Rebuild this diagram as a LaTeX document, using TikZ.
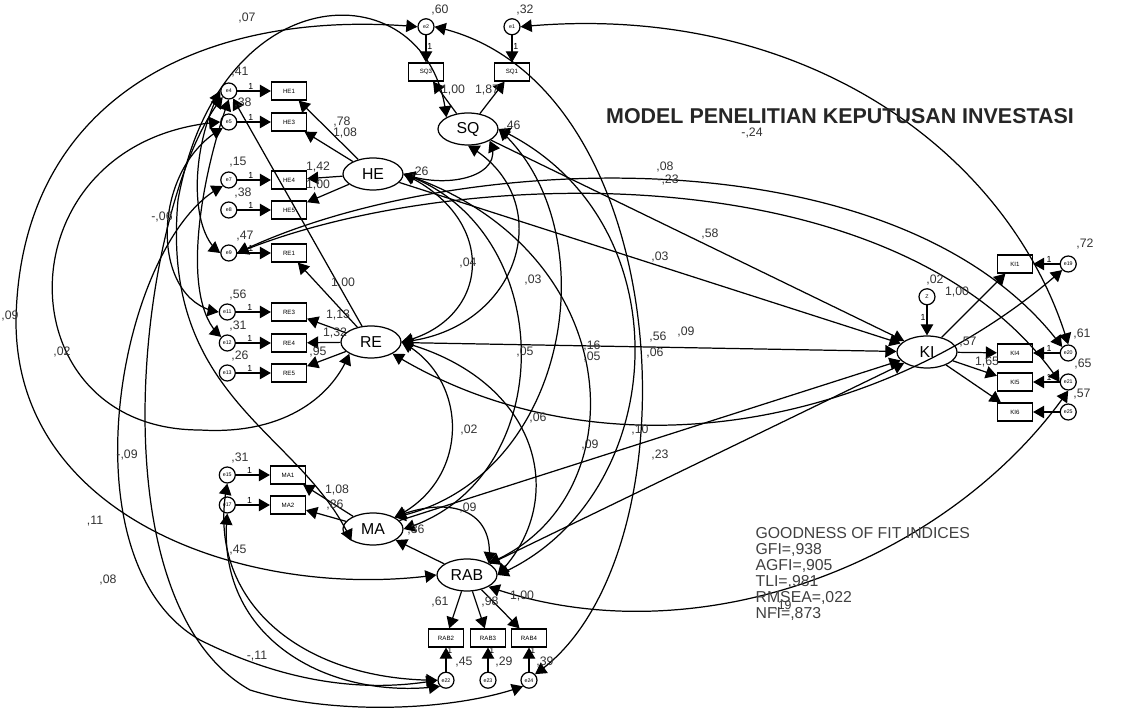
\documentclass[tikz,border=0pt]{standalone}
\usepackage{fontspec}
\setmainfont{Liberation Sans}
\usepackage{tikz}
\usetikzlibrary{arrows}
\usetikzlibrary{positioning}
\usetikzlibrary{shapes.geometric}
\tikzset{%
  myedge/.style={->, >=triangle 60},
  mycov/.style={<->, >=triangle 60},
  latent/.style={ellipse, draw=black, minimum width=1.2cm, minimum height=0.64cm, inner sep=0pt, font=\fontsize{9}{9}\selectfont},
  obsbox/.style={rectangle, draw=black, minimum width=0.7cm, minimum height=0.36cm, inner sep=0pt, font=\fontsize{3.5}{4}\selectfont},
  errnode/.style={circle, draw=black, minimum size=0.32cm, inner sep=0pt, font=\fontsize{3}{3}\selectfont},
  num/.style={font=\fontsize{7}{7}\selectfont, inner sep=0pt, text=black!80},
  one/.style={font=\fontsize{5}{5}\selectfont, inner sep=0.5pt}
}

\begin{document}
\begin{tikzpicture}[x=0.02cm, y=-0.02cm, line width=0.7pt]
  \useasboundingbox (0,0) rectangle (1140,715);

  % latent variables
  \node[latent] (sq) at (468,129) {SQ};
  \node[latent] (he) at (373,174) {HE};
  \node[latent] (re) at (371,342) {RE};
  \node[latent] (ma) at (373,529) {MA};
  \node[latent] (rab) at (467,575) {RAB};
  \node[latent] (ki) at (927,352) {KI};

  % indicators
  \node[obsbox] (he1) at (289,91) {HE1};
  \node[obsbox] (he3) at (289,122) {HE3};
  \node[obsbox] (he4) at (289,180) {HE4};
  \node[obsbox] (he5) at (289,210) {HE5};
  \node[obsbox] (re1) at (289,253) {RE1};
  \node[obsbox] (re3) at (289,312) {RE3};
  \node[obsbox] (re4) at (289,343) {RE4};
  \node[obsbox] (re5) at (289,373) {RE5};
  \node[obsbox] (ma1) at (288,475) {MA1};
  \node[obsbox] (ma2) at (288,505) {MA2};
  \node[obsbox] (sq3) at (426,72) {SQ3};
  \node[obsbox] (sq1) at (512,72) {SQ1};
  \node[obsbox] (rab2) at (446,638) {RAB2};
  \node[obsbox] (rab3) at (488,638) {RAB3};
  \node[obsbox] (rab4) at (529,638) {RAB4};
  \node[obsbox] (ki1) at (1015,264) {KI1};
  \node[obsbox] (ki4) at (1015,353) {KI4};
  \node[obsbox] (ki5) at (1015,382) {KI5};
  \node[obsbox] (ki6) at (1015,412) {KI6};

  % error terms
  \node[errnode,left=0.67cm of he1] (e4) {e4};
  \node[errnode,left=0.67cm of he3] (e5) {e5};
  \node[errnode,left=0.67cm of he4] (e7) {e7};
  \node[errnode,left=0.67cm of he5] (e8) {e8};
  \node[errnode,left=0.67cm of re1] (e9) {e9};
  \node[errnode,left=0.7cm of re3] (e11) {e11};
  \node[errnode,left=0.7cm of re4] (e12) {e12};
  \node[errnode,left=0.7cm of re5] (e13) {e13};
  \node[errnode,left=0.68cm of ma1] (e15) {e15};
  \node[errnode,left=0.68cm of ma2] (e17) {e17};
  \node[errnode,above=0.54cm of sq3] (e2) {e2};
  \node[errnode,above=0.54cm of sq1] (e1) {e1};
  \node[errnode,below=0.48cm of rab2] (e22) {e22};
  \node[errnode,below=0.48cm of rab3] (e23) {e23};
  \node[errnode,below=0.48cm of rab4] (e24) {e24};
  \node[errnode,right=0.53cm of ki1] (e19) {e19};
  \node[errnode,right=0.53cm of ki4] (e20) {e20};
  \node[errnode,right=0.53cm of ki5] (e21) {e21};
  \node[errnode,right=0.53cm of ki6] (e25) {e25};
  \node[errnode,above=0.6cm of ki] (z) {Z};

  % loadings
  \draw[myedge] (he) -- (he1);
  \draw[myedge] (he) -- (he3);
  \draw[myedge] (he) -- (he4);
  \draw[myedge] (he) -- (he5);
  \draw[myedge] (re) -- (re1);
  \draw[myedge] (re) -- (re3);
  \draw[myedge] (re) -- (re4);
  \draw[myedge] (re) -- (re5);
  \draw[myedge] (ma) -- (ma1);
  \draw[myedge] (ma) -- (ma2);
  \draw[myedge] (sq) -- (sq3);
  \draw[myedge] (sq) -- (sq1);
  \draw[myedge] (rab) -- (rab2);
  \draw[myedge] (rab) -- (rab3);
  \draw[myedge] (rab) -- (rab4);
  \draw[myedge] (ki) -- (ki1);
  \draw[myedge] (ki) -- (ki4);
  \draw[myedge] (ki) -- (ki5);
  \draw[myedge] (ki) -- (ki6);

  % error paths
  \draw[myedge] (e4) -- node[one,above,pos=0.4] (o4) {1} (he1);
  \draw[myedge] (e5) -- node[one,above,pos=0.4] (o5) {1} (he3);
  \draw[myedge] (e7) -- node[one,above,pos=0.4] (o7) {1} (he4);
  \draw[myedge] (e8) -- node[one,above,pos=0.4] (o8) {1} (he5);
  \draw[myedge] (e9) -- node[one,above,pos=0.4] (o9) {1} (re1);
  \draw[myedge] (e11) -- node[one,above,pos=0.4] (o11) {1} (re3);
  \draw[myedge] (e12) -- node[one,above,pos=0.4] (o12) {1} (re4);
  \draw[myedge] (e13) -- node[one,above,pos=0.4] (o13) {1} (re5);
  \draw[myedge] (e15) -- node[one,above,pos=0.4] (o15) {1} (ma1);
  \draw[myedge] (e17) -- node[one,above,pos=0.4] (o17) {1} (ma2);
  \draw[myedge] (e2) -- node[one,right,pos=0.4] (o2) {1} (sq3);
  \draw[myedge] (e1) -- node[one,right,pos=0.4] (o1) {1} (sq1);
  \draw[myedge] (e22) -- node[one,right,pos=0.9] (o22) {1} (rab2);
  \draw[myedge] (e23) -- node[one,right,pos=0.9] (o23) {1} (rab3);
  \draw[myedge] (e24) -- node[one,right,pos=0.9] (o24) {1} (rab4);
  \draw[myedge] (e19) -- node[one,above,pos=0.4] (o19) {1} (ki1);
  \draw[myedge] (e20) -- node[one,above,pos=0.4] (o20) {1} (ki4);
  \draw[myedge] (e21) -- node[one,above,pos=0.4] (o21) {1} (ki5);
  \draw[myedge] (e25) -- (ki6);
  \draw[myedge] (z) -- node[one,left,pos=0.4] (oz) {1} (ki);

  % structural paths
  \draw[myedge] (sq) -- (ki);
  \draw[myedge] (he) -- (ki);
  \draw[myedge] (re) -- (ki);
  \draw[myedge] (ma) -- (ki);
  \draw[myedge] (rab) -- (ki);
  \draw[myedge] (rab) -- (ma);
  \draw[myedge] (re) -- (e4);

  % covariances of latents
  \draw[mycov] (he.east) .. controls (450,190) and (505,175) .. (sq.south east);
  \draw[mycov] (he.east) .. controls (500,220) and (490,320) .. (re.east);
  \draw[mycov] (sq.south) .. controls (560,200) and (520,330) .. (re.east);
  \draw[mycov] (he.east) .. controls (560,230) and (560,480) .. (ma.east);
  \draw[mycov] (he.east) .. controls (630,250) and (640,500) .. (rab.north east);
  \draw[mycov] (sq.east) .. controls (610,230) and (570,480) .. (ma.north east);
  \draw[mycov] (sq.east) .. controls (690,220) and (670,500) .. (rab.east);
  \draw[mycov] (re.east) .. controls (470,380) and (470,480) .. (ma.north east);
  \draw[mycov] (re.east) .. controls (540,380) and (570,500) .. (rab.east);
  \draw[mycov] (ma.north east) .. controls (450,495) and (495,510) .. (rab.north east);

  % covariances of errors, right
  \draw[mycov] (e9.east) .. controls (450,150) and (900,130) .. (e20.north west);
  \draw[mycov] (e9.east) .. controls (450,165) and (900,150) .. (e21.west);
  \draw[mycov] (e1.east) .. controls (800,0) and (1010,150) .. (e20.north);
  \draw[mycov] (re.south east) .. controls (600,480) and (880,430) .. (e19.south west);
  \draw[mycov] (rab.south east) .. controls (700,660) and (950,560) .. (e21.south);
  \draw[mycov] (e2.east) .. controls (680,80) and (700,560) .. (e24.north east);

  % covariances of errors, left
  \draw[mycov] (e2.west) .. controls (200,8) and (20,100) .. (16,320) .. controls (15,520) and (250,600) .. (rab.west);
  \draw[mycov] (sq.north west) .. controls (430,-30) and (220,-30) .. (178,200) .. controls (160,400) and (300,430) .. (ma.south west);
  \draw[mycov] (e5.west) .. controls (0,140) and (0,430) .. (200,430) .. controls (280,435) and (330,400) .. (re.south west);
  \draw[mycov] (e7.south west) .. controls (120,240) and (60,560) .. (200,640) .. controls (300,690) and (380,690) .. (e22.west);
  \draw[mycov] (e4.south west) .. controls (140,200) and (90,600) .. (250,690) .. controls (330,715) and (450,712) .. (e24.south west);
  \draw[mycov] (e15.south) .. controls (205,600) and (300,680) .. (e22.west);
  \draw[mycov] (e17.south) .. controls (215,640) and (330,700) .. (e22.south west);
  \draw[mycov] (e4.west) .. controls (190,150) and (190,230) .. (e9.west);
  \draw[mycov] (e5.south west) .. controls (150,170) and (150,300) .. (e11.west);
  \draw[mycov] (e4.south) .. controls (200,180) and (180,300) .. (e12.north west);

  % variances
  \node[num] (v4) at (240,72) {,41};
  \node[num] (v5) at (243,103) {,38};
  \node[num] (v7) at (238,162) {,15};
  \node[num] (v8) at (243,193) {,38};
  \node[num] (v9) at (245,236) {,47};
  \node[num] (v11) at (238,295) {,56};
  \node[num] (v12) at (238,326) {,31};
  \node[num] (v13) at (240,356) {,26};
  \node[num] (v15) at (240,458) {,31};
  \node[num] (v17) at (238,550) {,45};
  \node[num] (v2) at (440,10) {,60};
  \node[num] (v1) at (525,10) {,32};
  \node[num] (vz) at (935,280) {,02};
  \node[num] (v19) at (1085,244) {,72};
  \node[num] (v20) at (1082,334) {,61};
  \node[num] (v21) at (1083,364) {,65};
  \node[num] (v25) at (1082,394) {,57};
  \node[num] (v22) at (464,662) {,45};
  \node[num] (v23) at (504,662) {,29};
  \node[num] (v24) at (545,662) {,39};
  \node[num] (vsq) at (512,126) {,46};
  \node[num] (vhe) at (420,172) {,26};
  \node[num] (vma) at (416,530) {,36};
  \node[num] (vrab) at (783,606) {,19};

  % loading weights
  \node[num] (w1) at (342,122) {,78};
  \node[num] (w2) at (345,133) {1,08};
  \node[num] (w3) at (318,167) {1,42};
  \node[num] (w4) at (318,185) {1,00};
  \node[num] (w5) at (343,283) {1,00};
  \node[num] (w6) at (338,315) {1,13};
  \node[num] (w7) at (335,333) {1,32};
  \node[num] (w8) at (318,352) {,95};
  \node[num] (w9) at (337,490) {1,08};
  \node[num] (w10) at (335,505) {,86};
  \node[num] (w11) at (453,90) {1,00};
  \node[num] (w12) at (487,90) {1,87};
  \node[num] (w13) at (440,602) {,61};
  \node[num] (w14) at (490,602) {,98};
  \node[num] (w15) at (522,596) {1,00};
  \node[num] (w16) at (957,292) {1,00};
  \node[num] (w17) at (968,342) {,57};
  \node[num] (w18) at (987,362) {1,65};

  % path and covariance weights
  \node[num] (c1) at (710,234) {,58};
  \node[num] (c2) at (660,257) {,03};
  \node[num] (c3) at (658,337) {,56};
  \node[num] (c4) at (686,332) {,09};
  \node[num] (c5) at (592,346) {,16};
  \node[num] (c6) at (592,357) {,05};
  \node[num] (c7) at (655,353) {,06};
  \node[num] (c8) at (525,352) {,05};
  \node[num] (c9) at (468,263) {,04};
  \node[num] (c10) at (533,280) {,03};
  \node[num] (c11) at (469,430) {,02};
  \node[num] (c12) at (538,418) {,06};
  \node[num] (c13) at (590,445) {,09};
  \node[num] (c14) at (640,430) {,10};
  \node[num] (c15) at (660,455) {,23};
  \node[num] (c16) at (468,508) {,09};
  \node[num] (c17) at (665,167) {,08};
  \node[num] (c18) at (668,180) {-,23};
  \node[num] (c19) at (752,133) {-,24};
  \node[num] (c20) at (247,18) {,07};
  \node[num] (c21) at (10,316) {,09};
  \node[num] (c22) at (62,352) {,02};
  \node[num] (c23) at (162,217) {-,06};
  \node[num] (c24) at (127,455) {-,09};
  \node[num] (c25) at (95,521) {,11};
  \node[num] (c26) at (108,580) {,08};
  \node[num] (c27) at (257,656) {-,11};

  % title and fit
  \node[font=\fontsize{12.2}{13}\selectfont\bfseries, text=black!85, inner sep=0pt] (title) at (840,116) {MODEL PENELITIAN KEPUTUSAN INVESTASI};
  \node[anchor=north west, align=left, inner sep=0pt, text=black!75, font=\fontsize{9}{9.1}\selectfont] (gof) at (755,527)
    {GOODNESS OF FIT INDICES\\GFI=,938\\AGFI=,905\\TLI=,981\\RMSEA=,022\\NFI=,873};
\end{tikzpicture}
\end{document}
